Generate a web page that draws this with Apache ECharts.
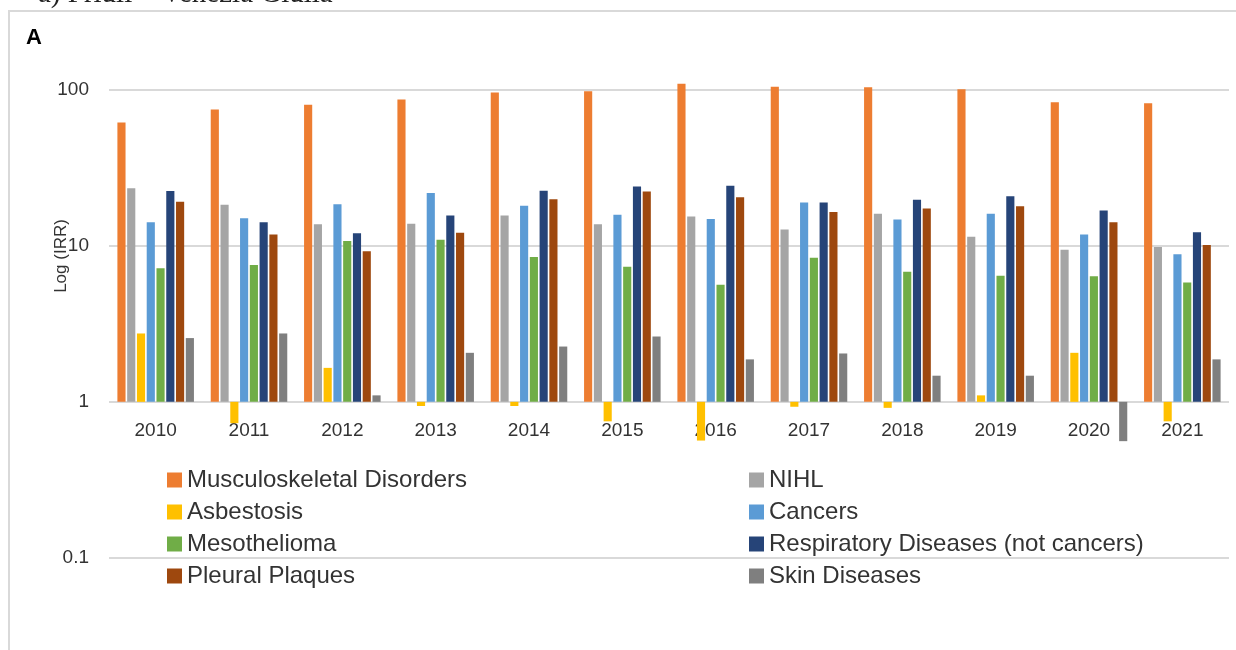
<!DOCTYPE html>
<html>
<head>
<meta charset="utf-8">
<title>Log (IRR) by year</title>
<script src="https://cdn.jsdelivr.net/npm/echarts@6/dist/echarts.min.js"></script>
<style>
  html, body { margin: 0; padding: 0; background: #fff; }
  #chart { width: 1236px; height: 650px; }
</style>
</head>
<body>
<div id="chart"></div>
<script>
// categories (years)
const years = ['2010', '2011', '2012', '2013', '2014', '2015', '2016', '2017', '2018', '2019', '2020', '2021']

// IRR per disease
const musculoskeletal = [61.4, 74.5, 79.8, 86.3, 95.7, 97.6, 109, 104, 103.5, 100.5, 82.9, 81.7]
const nihl = [23.3, 18.3, 13.7, 13.8, 15.6, 13.7, 15.4, 12.7, 16.0, 11.4, 9.4, 9.8]
const asbestosis = [2.74, 0.73, 1.65, 0.94, 0.94, 0.75, 0.565, 0.93, 0.915, 1.10, 2.06, 0.75]
const cancers = [14.1, 15.0, 18.4, 21.7, 18.0, 15.8, 14.8, 18.9, 14.7, 16.0, 11.8, 8.8]
const mesothelioma = [7.16, 7.52, 10.7, 10.9, 8.46, 7.34, 5.62, 8.38, 6.81, 6.42, 6.36, 5.82]
const respiratory = [22.4, 14.1, 12.0, 15.6, 22.5, 23.9, 24.2, 18.9, 19.7, 20.7, 16.8, 12.2]
const pleural = [19.1, 11.8, 9.2, 12.1, 19.8, 22.2, 20.4, 16.4, 17.3, 17.9, 14.1, 10.1]
const skin = [2.56, 2.74, 1.10, 2.06, 2.26, 2.62, 1.87, 2.04, 1.47, 1.47, 0.56, 1.87]

// series names, in drawing order
const seriesNames = [
  'Musculoskeletal Disorders', 'NIHL', 'Asbestosis', 'Cancers',
  'Mesothelioma', 'Respiratory Diseases (not cancers)', 'Pleural Plaques', 'Skin Diseases'
]
const seriesData = [musculoskeletal, nihl, asbestosis, cancers, mesothelioma, respiratory, pleural, skin]
const colors = ['#ED7D31', '#A5A5A5', '#FFC000', '#5B9BD5', '#70AD47', '#264478', '#9E480E', '#7F7F7F']

// y-axis: log scale, 0.1 .. 100
const yMin = 0.1
const yMax = 100

const FONT = '"Liberation Sans", Arial, sans-serif'
const TEXT = '#333333'

const chart = echarts.init(document.getElementById('chart'))

const gridTop = 89.5
const gridBottom = 92
const gridHeight = 650 - gridTop - gridBottom
// the category axis sits on the value 1 line (one decade above the bottom)
const decades = Math.log10(yMax) - Math.log10(yMin)
const xAxisOffset = -gridHeight * (Math.log10(1) - Math.log10(yMin)) / decades

const legendText = {
  fontFamily: FONT,
  fontSize: 24,
  color: TEXT,
  lineHeight: 32
}

const option = {
  backgroundColor: '#fff',
  animation: false,
  color: colors,
  graphic: [
    {
      type: 'rect',
      z: -10,
      shape: { x: 9, y: 11, width: 1400, height: 800 },
      style: { fill: 'none', stroke: '#d9d9d9', lineWidth: 2 }
    },
    {
      // caption of the figure, cut by the top edge
      type: 'text',
      left: 38,
      top: -20,
      style: {
        text: 'a) Friuli – Venezia Giulia',
        font: '29px "Liberation Serif", "DejaVu Serif", serif',
        fill: '#222'
      }
    },
    {
      type: 'text',
      left: 26,
      top: 27,
      style: {
        text: 'A',
        font: 'bold 22px "Liberation Sans", Arial, sans-serif',
        fill: '#000'
      }
    },
    {
      type: 'text',
      x: 61,
      y: 256,
      rotation: Math.PI / 2,
      style: {
        text: 'Log (IRR)',
        font: '17px "Liberation Sans", Arial, sans-serif',
        fill: TEXT,
        align: 'center',
        verticalAlign: 'middle'
      }
    }
  ],
  grid: {
    left: 109,
    right: 7,
    top: gridTop,
    bottom: gridBottom,
    containLabel: false
  },
  legend: [
    {
      orient: 'vertical',
      left: 167,
      top: 464,
      padding: 0,
      itemGap: 0,
      itemWidth: 15,
      itemHeight: 15,
      icon: 'rect',
      textStyle: legendText,
      data: [seriesNames[0], seriesNames[2], seriesNames[4], seriesNames[6]]
    },
    {
      orient: 'vertical',
      left: 749,
      top: 464,
      padding: 0,
      itemGap: 0,
      itemWidth: 15,
      itemHeight: 15,
      icon: 'rect',
      textStyle: legendText,
      data: [seriesNames[1], seriesNames[3], seriesNames[5], seriesNames[7]]
    }
  ],
  xAxis: {
    type: 'category',
    data: years,
    offset: xAxisOffset,
    axisLine: { show: false, onZero: false },
    axisTick: { show: false },
    axisLabel: {
      color: TEXT,
      fontFamily: FONT,
      fontSize: 19,
      margin: 19
    },
    splitLine: { show: false }
  },
  yAxis: {
    type: 'log',
    logBase: 10,
    min: yMin,
    max: yMax,
    axisLine: { show: false },
    axisTick: { show: false },
    axisLabel: {
      color: TEXT,
      fontFamily: FONT,
      fontSize: 19,
      margin: 20,
      formatter: v => String(+v.toPrecision(3))
    },
    splitLine: { lineStyle: { color: '#d9d9d9', width: 2 } }
  },
  series: seriesNames.map((name, i) => ({
    name,
    type: 'bar',
    data: seriesData[i],
    clip: false,
    barGap: '20%',
    barCategoryGap: '18%',
    itemStyle: { color: colors[i] }
  }))
}

chart.setOption(option)
</script>
</body>
</html>
